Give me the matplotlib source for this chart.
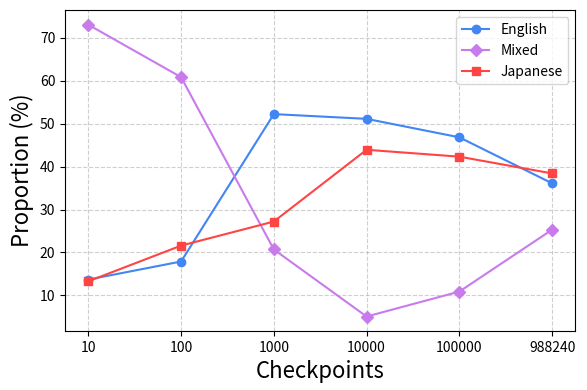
import matplotlib.pyplot as plt

plt.rcParams['font.family'] = ['Noto Sans CJK JP', 'DejaVu Sans']

# data
checkpoints = ['10', '100', '1000', '10000', '100000', '988240']
english = [13.7, 17.9, 52.2, 51.1, 46.8, 36.1]
mixed = [73.0, 60.8, 20.7, 5.1, 10.9, 25.3]
japanese = [13.3, 21.6, 27.2, 43.9, 42.3, 38.4]

# colors
col_en = '#4285F4'
col_mx = '#C97AEB'
col_ja = '#FF4444'

fig, ax = plt.subplots(figsize=(5.87, 3.9), dpi=100)
x = range(len(checkpoints))

ax.plot(x, english, marker='o', color=col_en, label='English', markersize=6, linewidth=1.5)
ax.plot(x, mixed, marker='D', color=col_mx, label='Mixed', markersize=6, linewidth=1.5)
ax.plot(x, japanese, marker='s', color=col_ja, label='Japanese', markersize=6, linewidth=1.5)

ax.set_xticks(list(x))
ax.set_xticklabels(checkpoints)
ax.tick_params(labelsize=10)
ax.grid(True, linestyle='--', alpha=0.6)
ax.set_xlabel('Checkpoints', fontsize=16)
ax.set_ylabel('Proportion (%)', fontsize=16)
ax.legend(loc='upper right', fontsize=10)

fig.subplots_adjust(left=0.111, right=0.98, top=0.974, bottom=0.151)
fig.savefig('out.png', dpi=100)
